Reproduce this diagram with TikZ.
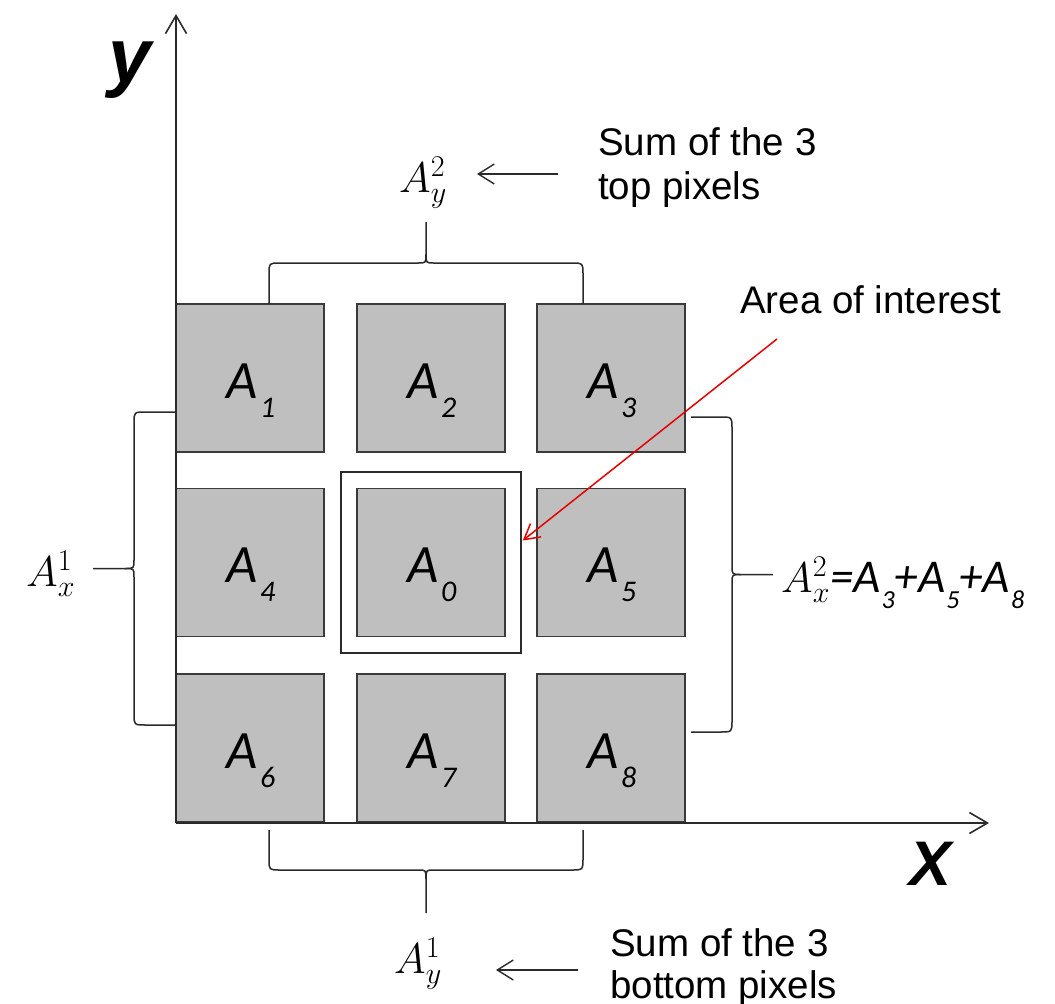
\RequirePackage{fix-cm}
\documentclass[tikz,border=0pt]{standalone}
\usepackage{fontspec}
\setmainfont{Liberation Sans}
\newfontfamily\calfont{Carlito}
\usetikzlibrary{arrows.meta,calc}
\definecolor{sqfill}{HTML}{BFBFBF}
\definecolor{sqedge}{HTML}{3A3A3A}
\definecolor{axcol}{HTML}{2A2A2A}
\newcommand\sqfont{\calfont\itshape\fontsize{54}{60}\selectfont}
\newcommand\subfont{\calfont\itshape\fontsize{30}{32}\selectfont}
\newcommand\eqfont{\calfont\itshape\fontsize{47}{50}\selectfont}
\newcommand\eqsub{\calfont\itshape\fontsize{26}{28}\selectfont}
\newcommand\txtfont{\fontsize{38.5}{44}\selectfont}
\newcommand\mathsz{\fontsize{43}{46}\selectfont}
\newcommand\alab[3]{\node[alabel] (#1) at ($(#2.center)+(1,20)$) {A\kern2pt\raisebox{-19pt}{\subfont #3}};}
\begin{document}
\begin{tikzpicture}[x=1pt,y=-1pt,
  sq/.style={draw=sqedge, fill=sqfill, line width=1.6pt, minimum width=148pt, minimum height=148pt, inner sep=0pt, outer sep=0pt},
  alabel/.style={anchor=base, inner sep=0pt, font=\sqfont},
  txt/.style={anchor=base west, inner sep=0pt, font=\txtfont},
  mlab/.style={anchor=base west, inner sep=0pt, font=\mathsz},
  axis/.style={draw=axcol, line width=1.8pt, -{Straight Barb[length=18pt,width=21pt,line width=1.6pt]}},
  pointer/.style={draw=axcol, line width=1.4pt, -{Straight Barb[length=16pt,width=20pt,line width=1.4pt]}},
  redarrow/.style={draw=red!90!black, line width=1.5pt, -{Straight Barb[length=15pt,width=17pt,line width=1.5pt]}},
  wbrace/.style={draw=axcol, line width=1.5pt}
]
\useasboundingbox (0,0) rectangle (1055,1004);

% squares
\node[sq] (s1) at (250,378) {};
\node[sq] (s2) at (431,378) {};
\node[sq] (s3) at (611,378) {};
\node[sq] (s4) at (250,562.5) {};
\node[sq] (s0) at (431,562.5) {};
\node[sq] (s5) at (611,562.5) {};
\node[sq] (s6) at (250,748) {};
\node[sq] (s7) at (431,748) {};
\node[sq] (s8) at (611,748) {};

\alab{l1}{s1}{1}
\alab{l2}{s2}{2}
\alab{l3}{s3}{3}
\alab{l4}{s4}{4}
\alab{l0}{s0}{0}
\alab{l5}{s5}{5}
\alab{l6}{s6}{6}
\alab{l7}{s7}{7}
\alab{l8}{s8}{8}

% area of interest box
\node[draw=axcol, line width=1.6pt, minimum width=180pt, minimum height=181pt, inner sep=0pt] (aoi) at (431,562.5) {};

% axes
\coordinate (origin) at (176,823);
\coordinate (ytip) at (176,14);
\coordinate (xtip) at (989,823);
\draw[axis] (origin) -- (ytip);
\draw[axis] (origin) -- (xtip);
\node[inner sep=0pt, anchor=base west, font=\fontsize{77}{80}\selectfont\bfseries\itshape] (ylab) at (108,82) {y};
\node[inner sep=0pt, anchor=base west, font=\fontsize{63}{66}\selectfont\bfseries\itshape] (xlab) at (909,885) {X};

% braces
% top
\draw[wbrace] (269,304) -- (269,274) .. controls (269,263) .. (280,263) -- (418,263) .. controls (426,263) .. (426,254) -- (426,222);
\draw[wbrace] (583,304) -- (583,274) .. controls (583,263) .. (572,263) -- (434,263) .. controls (426,263) .. (426,254);
% bottom
\draw[wbrace] (269,830) -- (269,859) .. controls (269,870) .. (280,870) -- (418,870) .. controls (426,870) .. (426,879) -- (426,913);
\draw[wbrace] (583,830) -- (583,859) .. controls (583,870) .. (572,870) -- (434,870) .. controls (426,870) .. (426,879);
% left
\draw[wbrace] (176,412) -- (146,412) .. controls (134,412) .. (134,423) -- (134,560) .. controls (134,568.5) .. (125,568.5) -- (93,568.5);
\draw[wbrace] (176,725) -- (146,725) .. controls (134,725) .. (134,714) -- (134,577) .. controls (134,568.5) .. (125,568.5);
% right
\draw[wbrace] (691,417) -- (720,417) .. controls (732,417) .. (732,428) -- (732,566) .. controls (732,574.5) .. (741,574.5) -- (773,574.5);
\draw[wbrace] (691,732) -- (720,732) .. controls (732,732) .. (732,721) -- (732,583) .. controls (732,574.5) .. (741,574.5);

% math labels
\node[mlab] (ay2) at (399,192) {$A_y^2$};
\node[mlab] (ay1) at (394,973) {$A_y^1$};
\node[mlab] (ax1) at (26,586) {$A_x^1$};
\node[inner sep=0pt, anchor=base west] (ax2) at (781,592) {{\mathsz$A_x^2$}{\eqfont =A\kern1pt\raisebox{-16pt}{\eqsub 3}+A\kern1pt\raisebox{-16pt}{\eqsub 5}+A\kern1pt\raisebox{-16pt}{\eqsub 8}}};

% texts
\node[txt] (st1) at (598,155) {Sum of the 3};
\node[txt] (st2) at (598,199) {top pixels};
\node[txt] (sb1) at (610,956) {Sum of the 3};
\node[txt] (sb2) at (610,998) {bottom pixels};
\node[txt] (aoitxt) at (740,313) {Area of interest};

% pointers
\coordinate (pt1) at (558,174);
\coordinate (pt2) at (477,174);
\coordinate (pb1) at (578,970);
\coordinate (pb2) at (496,970);
\draw[pointer] (pt1) -- (pt2);
\draw[pointer] (pb1) -- (pb2);

% red arrow
\coordinate (rs) at (777,339);
\coordinate (re) at ($(aoi.east)+(1,-22)$);
\draw[redarrow] (rs) -- (re);
\end{tikzpicture}
\end{document}
